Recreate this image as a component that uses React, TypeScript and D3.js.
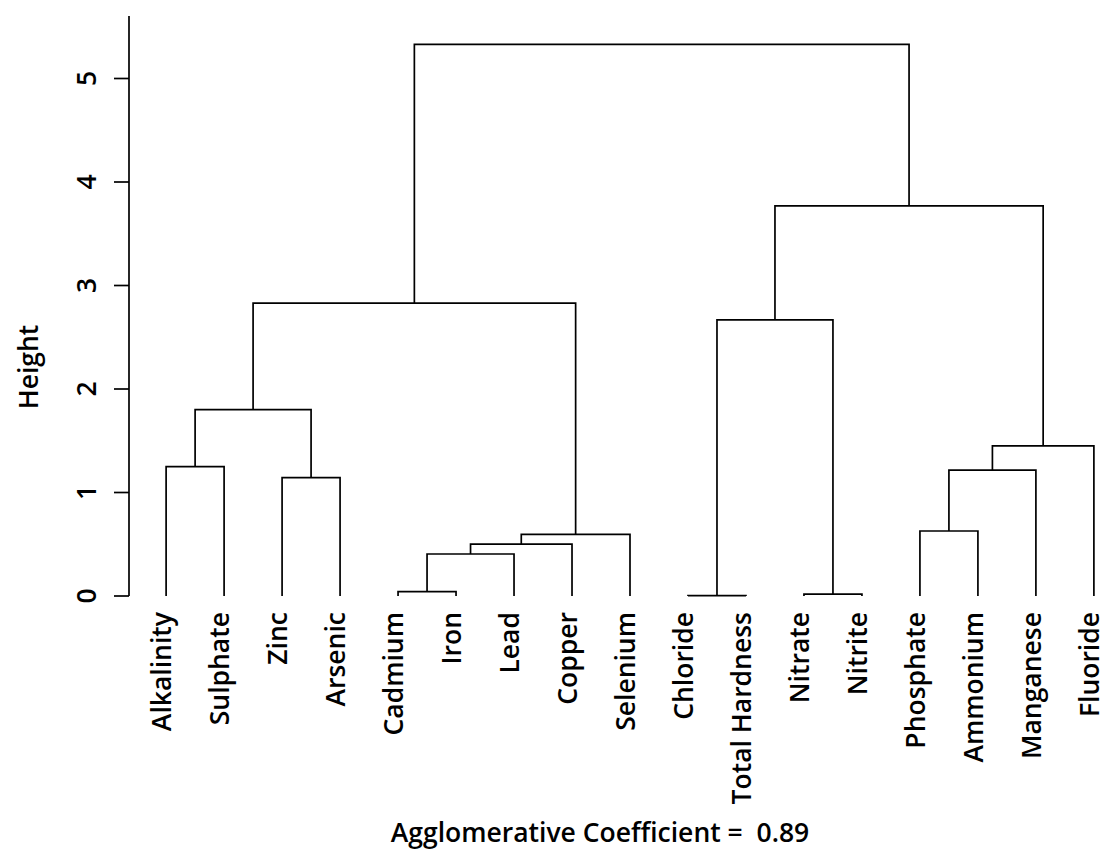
import React from "react";
import * as d3 from "d3";

// Leaf order along the x axis
const leafLabels = [
  "Alkalinity", "Sulphate", "Zinc", "Arsenic", "Cadmium", "Iron", "Lead",
  "Copper", "Selenium", "Chloride", "Total Hardness", "Nitrate", "Nitrite",
  "Phosphate", "Ammonium", "Manganese", "Fluoride",
];

// Merge steps (R hclust style): negative = leaf position (1-based), positive = earlier merge
const mergeLeft = [-10, -12, -5, 3, 4, 5, -14, -3, 7, -1, 9, 10, 1, 12, 13, 14];
const mergeRight = [-11, -13, -6, -7, -8, -9, -15, -4, -16, -2, -17, 8, 2, 6, 11, 15];
const mergeHeight = [
  0.003, 0.019, 0.042, 0.406, 0.502, 0.596, 0.628, 1.143, 1.217, 1.25, 1.45,
  1.8, 2.667, 2.83, 3.77, 5.33,
];

const yTicks = [0, 1, 2, 3, 4, 5];
const coefficient = 0.89;

const W = 1102;
const H = 857;
const FONT = "'Open Sans', sans-serif";

export default function App() {
  const n = leafLabels.length;
  const x = d3.scaleLinear().domain([1 - 0.04 * (n - 1), n + 0.04 * (n - 1)]).range([129, 1131]);
  const y = d3.scaleLinear().domain([0, 5]).range([596, 78.5]);

  // Position of each merged node: midpoint of its two children
  const nodeX: number[] = [];
  const childPos = (c: number) =>
    c < 0 ? { cx: x(-c), cy: y(0) } : { cx: nodeX[c - 1], cy: y(mergeHeight[c - 1]) };

  const segments: string[] = [];
  mergeHeight.forEach((h, i) => {
    const a = childPos(mergeLeft[i]);
    const b = childPos(mergeRight[i]);
    const top = y(h);
    nodeX[i] = (a.cx + b.cx) / 2;
    const path = d3.path();
    path.moveTo(a.cx, a.cy);
    path.lineTo(a.cx, top);
    path.lineTo(b.cx, top);
    path.lineTo(b.cx, b.cy);
    segments.push(path.toString());
  });

  const fs = 26.5;

  return (
    <svg width={W} height={H} style={{ display: "block", position: "absolute", left: 0, top: 0, background: "#fff" }}>
      <rect width={W} height={H} fill="#fff" />
      <g fill="none" stroke="#000" strokeWidth={1.7}>
        {segments.map((d, i) => (
          <path key={i} d={d} strokeLinejoin="miter" strokeLinecap="butt" />
        ))}
      </g>
      {/* y axis */}
      <g stroke="#000" strokeWidth={1.7}>
        <line x1={129} x2={129} y1={y(0)} y2={16} />
        {yTicks.map((t) => (
          <line key={t} x1={114} x2={129} y1={y(t)} y2={y(t)} />
        ))}
      </g>
      <g fontFamily={FONT} fontSize={fs} fontWeight={600} fill="#000">
        {yTicks.map((t) => (
          <text key={t} transform={`translate(96,${y(t)}) rotate(-90)`} textAnchor="middle">
            {t}
          </text>
        ))}
        {leafLabels.map((l, i) => (
          <text key={l} transform={`translate(${x(i + 1) + 5},612) rotate(-90)`} textAnchor="end">
            {l}
          </text>
        ))}
        <text transform={`translate(38,367) rotate(-90)`} textAnchor="middle">
          Height
        </text>
        <text x={600} y={842} textAnchor="middle" xmlSpace="preserve">
          {`Agglomerative Coefficient =  ${coefficient.toFixed(2)}`}
        </text>
      </g>
    </svg>
  );
}
